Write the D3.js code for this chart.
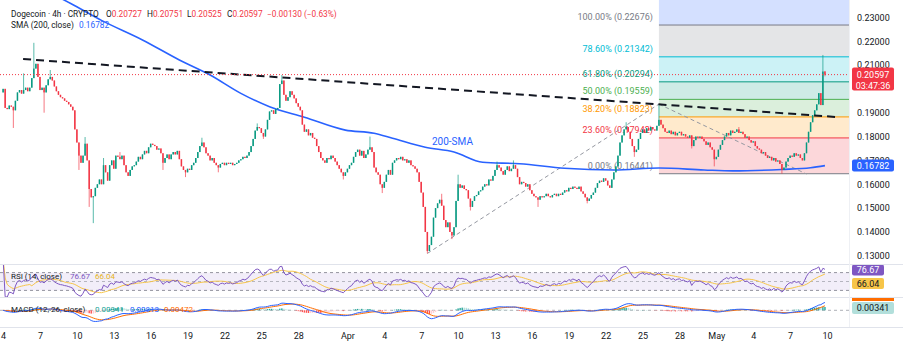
<!DOCTYPE html>
<html><head><meta charset="utf-8">
<script src="https://cdn.jsdelivr.net/npm/d3@7"></script>
<style>body{margin:0;background:#fff;} svg{display:block;font-family:Roboto,"Noto Sans",sans-serif;}</style>
</head><body><svg id="c" width="903" height="350"></svg>
<script>
// ---------------- DATA ----------------
const startTime = "2025-03-04T00:00Z";   // first 4h candle
const firstOpen = 0.1985;
const closes = [
0.2000,0.1920,0.1915,0.1930,0.1925,0.1910,0.1950,0.1985,0.1995,0.1980,0.1995,0.2005,
0.1990,0.2005,0.2045,0.2085,0.2105,0.2050,0.1995,0.2005,0.1985,0.2015,0.2040,0.2050,
0.2035,0.2010,0.1990,0.1975,0.1965,0.1960,0.1950,0.1945,0.1935,0.1925,0.1910,0.1830,
0.1775,0.1720,0.1690,0.1720,0.1770,0.1700,0.1580,0.1545,0.1550,0.1585,0.1600,0.1620,
0.1600,0.1680,0.1650,0.1615,0.1680,0.1700,0.1665,0.1720,0.1715,0.1705,0.1720,0.1680,
0.1650,0.1635,0.1660,0.1675,0.1680,0.1695,0.1715,0.1705,0.1725,0.1740,0.1730,0.1755,
0.1770,0.1765,0.1760,0.1745,0.1750,0.1730,0.1690,0.1710,0.1725,0.1705,0.1725,0.1735,
0.1725,0.1740,0.1705,0.1675,0.1660,0.1650,0.1665,0.1660,0.1680,0.1690,0.1710,0.1735,
0.1760,0.1775,0.1755,0.1730,0.1720,0.1700,0.1710,0.1690,0.1680,0.1670,0.1685,0.1690,
0.1680,0.1690,0.1685,0.1690,0.1680,0.1685,0.1690,0.1700,0.1705,0.1715,0.1710,0.1720,
0.1735,0.1760,0.1790,0.1825,0.1840,0.1835,0.1815,0.1800,0.1830,0.1870,0.1905,0.1910,
0.1895,0.1915,0.1920,0.2020,0.2035,0.1975,0.1950,0.1965,0.1990,0.1975,0.1960,0.1940,
0.1925,0.1910,0.1850,0.1820,0.1830,0.1805,0.1815,0.1795,0.1790,0.1760,0.1735,0.1710,
0.1700,0.1690,0.1710,0.1705,0.1720,0.1710,0.1695,0.1680,0.1665,0.1650,0.1635,0.1650,
0.1665,0.1680,0.1690,0.1715,0.1735,0.1745,0.1720,0.1740,0.1710,0.1725,0.1745,0.1755,
0.1735,0.1670,0.1650,0.1640,0.1600,0.1585,0.1610,0.1640,0.1660,0.1640,0.1690,0.1700,
0.1710,0.1705,0.1715,0.1700,0.1705,0.1690,0.1700,0.1680,0.1675,0.1665,0.1650,0.1610,
0.1565,0.1505,0.1400,0.1320,0.1345,0.1380,0.1460,0.1500,0.1520,0.1535,0.1510,0.1450,
0.1420,0.1440,0.1400,0.1385,0.1420,0.1530,0.1600,0.1585,0.1595,0.1580,0.1575,0.1540,
0.1505,0.1530,0.1550,0.1555,0.1570,0.1575,0.1590,0.1600,0.1595,0.1620,0.1615,0.1635,
0.1660,0.1680,0.1670,0.1655,0.1640,0.1660,0.1675,0.1655,0.1665,0.1680,0.1665,0.1630,
0.1600,0.1610,0.1605,0.1590,0.1600,0.1575,0.1560,0.1550,0.1545,0.1535,0.1550,0.1545,
0.1550,0.1560,0.1550,0.1545,0.1555,0.1560,0.1550,0.1560,0.1555,0.1565,0.1575,0.1570,
0.1585,0.1580,0.1590,0.1585,0.1580,0.1590,0.1570,0.1560,0.1545,0.1530,0.1540,0.1555,
0.1565,0.1585,0.1605,0.1615,0.1610,0.1625,0.1615,0.1595,0.1585,0.1620,0.1650,0.1675,
0.1720,0.1775,0.1805,0.1830,0.1840,0.1820,0.1790,0.1760,0.1735,0.1745,0.1790,0.1815,
0.1830,0.1815,0.1835,0.1825,0.1840,0.1830,0.1825,0.1845,0.1870,0.1850,0.1835,0.1820,
0.1815,0.1825,0.1810,0.1820,0.1805,0.1815,0.1820,0.1805,0.1810,0.1800,0.1795,0.1805,
0.1760,0.1785,0.1800,0.1795,0.1800,0.1790,0.1780,0.1765,0.1775,0.1755,0.1745,0.1705,
0.1715,0.1745,0.1765,0.1785,0.1800,0.1815,0.1805,0.1825,0.1815,0.1820,0.1830,0.1815,
0.1820,0.1810,0.1795,0.1800,0.1785,0.1775,0.1780,0.1760,0.1750,0.1745,0.1730,0.1735,
0.1720,0.1710,0.1715,0.1700,0.1710,0.1695,0.1700,0.1685,0.1660,0.1670,0.1695,0.1710,
0.1720,0.1715,0.1730,0.1720,0.1725,0.1710,0.1700,0.1730,0.1775,0.1820,0.1860,0.1890,
0.1910,0.1935,0.1982,0.1932,0.20727,0.20597
];
// notable wicks: [candle index, price]
const wickHighs = [[10,0.2065],[15,0.2193],[23,0.2079],[40,0.1798],[49,0.1710],[57,0.1735],[97,0.1795],[124,0.1855],[136,0.2058],[179,0.1800],[214,0.1560],[222,0.1640],[241,0.1695],[249,0.1700],[304,0.1860],[320,0.1936],[359,0.1840],[400,0.2142],[401,0.20751]];
const wickLows = [[5,0.1836],[20,0.1900],[37,0.1660],[42,0.1505],[44,0.1437],[78,0.1660],[89,0.1630],[105,0.1650],[127,0.1790],[166,0.1620],[185,0.1563],[207,0.1310],[219,0.1370],[228,0.1490],[261,0.1505],[285,0.1520],[308,0.1715],[336,0.1750],[347,0.1675],[380,0.16441],[401,0.20525]];

const smaDates = ["2025-03-07T00:00Z","2025-03-09T12:00Z","2025-03-12T00:00Z","2025-03-15T08:00Z","2025-03-18T08:00Z","2025-03-20T20:00Z","2025-03-23T08:00Z","2025-03-25T16:00Z","2025-03-28T12:00Z","2025-03-31T20:00Z","2025-04-03T04:00Z","2025-04-04T16:00Z","2025-04-07T08:00Z","2025-04-09T16:00Z","2025-04-12T00:00Z","2025-04-15T00:00Z","2025-04-18T16:00Z","2025-04-22T16:00Z","2025-04-26T08:00Z","2025-04-30T00:00Z","2025-05-02T08:00Z","2025-05-06T08:00Z","2025-05-08T16:00Z","2025-05-09T20:00Z"];
const smaValues = [0.2423,0.2358,0.2287,0.2205,0.2121,0.2058,0.1981,0.1925,0.1881,0.1827,0.1814,0.1793,0.1755,0.1735,0.1692,0.1686,0.1667,0.1660,0.1668,0.1660,0.1656,0.1662,0.1669,0.16782];

const fibRatios = [0, 0.236, 0.382, 0.5, 0.618, 0.786, 1];
const fibPrices = [0.16441, 0.17942, 0.18823, 0.19559, 0.20294, 0.21342, 0.22676];
const fibColors = ["#787b86","#f23645","#ff9800","#4caf50","#089981","#00bcd4","#787b86"];
const fibExtPrice = 0.26529; const fibExtColor = "#2962ff";
const fibStart = "2025-04-26T08:00Z";

const trendLine = [["2025-03-05T15:00Z",0.2125],["2025-05-11T01:00Z",0.1881]];
const riseLine = [["2025-04-07T12:00Z",0.1310],["2025-04-26T08:00Z",0.1936]];
const fallLine = [["2025-04-26T08:00Z",0.1936],["2025-05-08T08:00Z",0.1643]];

const priceTicks = [0.13,0.14,0.15,0.16,0.17,0.18,0.19,0.21,0.22,0.23];
const tickDates = ["2025-03-04","2025-03-07","2025-03-10","2025-03-13","2025-03-16","2025-03-19","2025-03-22","2025-03-25","2025-03-28","2025-04-01","2025-04-04","2025-04-07","2025-04-10","2025-04-13","2025-04-16","2025-04-19","2025-04-22","2025-04-25","2025-04-28","2025-05-01","2025-05-04","2025-05-07","2025-05-10"];
const tickLabels = ["4","7","10","13","16","19","22","25","28","Apr","4","7","10","13","16","19","22","25","28","May","4","7","10"];

const lastPrice = 0.20597, lastOpen = 0.20727, lastHigh = 0.20751, lastLow = 0.20525, lastChange = -0.00130, lastPct = -0.63;
const countdown = "03:47:36";
const smaLast = 0.16782;
const rsiLabels = ["76.67","66.04"];
const macdLabels = ["0.00341","0.00813","0.00472"];

// ---------------- SETUP ----------------
const svg = d3.select("#c");
const W = 903, H = 350, CR = 849;
const mainTop = 0, mainBot = 264, rsiTop = 265, rsiBot = 297, macdTop = 298, macdBot = 327;
const UP = "#089981", DN = "#f23645", TXT = "#131722";
svg.append("rect").attr("width",W).attr("height",H).attr("fill","#fff");

const H4 = 4*3600*1000;
const t0 = new Date(startTime).getTime();
const tOf = i => new Date(t0 + i*H4);
const x = d3.scaleUtc().domain([new Date("2025-03-07T00:00Z"), new Date("2025-05-10T00:00Z")]).range([40, 827]);
const y = d3.scaleLinear().domain([0.13, 0.23]).range([255.8, 17.3]);

const hiMap = new Map(wickHighs), loMap = new Map(wickLows);
const candles = closes.map((c,i)=>{
  const o = i===0 ? firstOpen : closes[i-1];
  let h = Math.max(o,c), l = Math.min(o,c);
  if (hiMap.has(i)) h = Math.max(h, hiMap.get(i));
  if (loMap.has(i)) l = Math.min(l, loMap.get(i));
  return {t: tOf(i), o, h, l, c};
});

const defs = svg.append("defs");
defs.append("clipPath").attr("id","cm").append("rect").attr("x",0).attr("y",mainTop).attr("width",CR).attr("height",mainBot-mainTop);
defs.append("clipPath").attr("id","cr").append("rect").attr("x",0).attr("y",rsiTop).attr("width",CR).attr("height",rsiBot-rsiTop);
defs.append("clipPath").attr("id","cd").append("rect").attr("x",0).attr("y",macdTop).attr("width",CR).attr("height",macdBot-macdTop);

const main = svg.append("g").attr("clip-path","url(#cm)");

// ---------------- FIB ----------------
const fx0 = x(new Date(fibStart));
const fibAll = fibPrices.concat([fibExtPrice]);
const fibColAll = fibColors.concat([fibExtColor]);
for (let k=0; k<fibAll.length-1; k++){
  main.append("rect").attr("x",fx0).attr("width",CR-fx0)
    .attr("y", y(fibAll[k+1])).attr("height", y(fibAll[k]) - y(fibAll[k+1]))
    .attr("fill", fibColAll[k+1]).attr("fill-opacity",0.2);
}
fibPrices.forEach((p,k)=>{
  main.append("line").attr("x1",fx0).attr("x2",CR).attr("y1",y(p)).attr("y2",y(p))
    .attr("stroke",fibColors[k]).attr("stroke-width",1);
  main.append("text").attr("x",fx0-6).attr("y",y(p)-5).attr("text-anchor","end")
    .attr("font-size",9).attr("fill",fibColors[k])
    .text((fibRatios[k]*100).toFixed(2)+"% ("+p.toFixed(5)+")");
});

// ---------------- dashed gray lines ----------------
[riseLine, fallLine].forEach(L=>{
  main.append("line").attr("x1",x(new Date(L[0][0]))).attr("y1",y(L[0][1]))
    .attr("x2",x(new Date(L[1][0]))).attr("y2",y(L[1][1]))
    .attr("stroke","#9598a1").attr("stroke-width",1).attr("stroke-dasharray","4,3");
});

// ---------------- SMA ----------------
const smaPts = smaDates.map((d,i)=>[new Date(d), smaValues[i]]);
main.append("path").datum(smaPts)
  .attr("d", d3.line().x(d=>x(d[0])).y(d=>y(d[1])).curve(d3.curveMonotoneX))
  .attr("fill","none").attr("stroke","#2962ff").attr("stroke-width",1.6);

// ---------------- CANDLES ----------------
const cg = main.append("g");
cg.selectAll("line.w").data(candles).join("line")
  .attr("x1",d=>x(d.t)).attr("x2",d=>x(d.t)).attr("y1",d=>y(d.h)).attr("y2",d=>y(d.l))
  .attr("stroke",d=>d.c>=d.o?UP:DN).attr("stroke-width",0.9).attr("stroke-opacity",0.75);
cg.selectAll("rect.b").data(candles).join("rect")
  .attr("x",d=>x(d.t)-0.75).attr("width",1.5)
  .attr("y",d=>y(Math.max(d.o,d.c))).attr("height",d=>Math.max(1, Math.abs(y(d.o)-y(d.c))))
  .attr("fill",d=>d.c>=d.o?UP:DN);

// ---------------- trend line ----------------
main.append("line").attr("x1",x(new Date(trendLine[0][0]))).attr("y1",y(trendLine[0][1]))
  .attr("x2",x(new Date(trendLine[1][0]))).attr("y2",y(trendLine[1][1]))
  .attr("stroke","#131722").attr("stroke-width",2).attr("stroke-dasharray","8,5");

// last price line
main.append("line").attr("x1",0).attr("x2",CR).attr("y1",y(lastPrice)).attr("y2",y(lastPrice))
  .attr("stroke",DN).attr("stroke-width",1).attr("stroke-dasharray","1,2");

// 200-SMA label
main.append("text").attr("x",432).attr("y",145).attr("font-size",10).attr("fill","#2962ff").text("200-SMA");

// ---------------- HEADER ----------------
const hdr = svg.append("text").attr("y",17).attr("font-size",8.3).attr("fill",TXT);
hdr.append("tspan").attr("x",11).text("Dogecoin · 4h · CRYPTO");
[["O",lastOpen,106],["H",lastHigh,147],["L",lastLow,187],["C",lastPrice,227]].forEach(([k,v,px])=>{
  hdr.append("tspan").attr("x",px).attr("fill",TXT).text(k);
  hdr.append("tspan").attr("fill",DN).text(v.toFixed(5));
});
hdr.append("tspan").attr("x",267).attr("fill",DN).text("−"+Math.abs(lastChange).toFixed(5)+" (−"+Math.abs(lastPct).toFixed(2)+"%)");
const hdr2 = svg.append("text").attr("y",28).attr("font-size",8.3).attr("fill",TXT);
hdr2.append("tspan").attr("x",11).text("SMA (200, close)");
hdr2.append("tspan").attr("x",79).attr("fill","#2962ff").text(smaLast.toFixed(5));

// ---------------- PRICE AXIS ----------------
const ya = svg.append("g").attr("transform",`translate(${CR},0)`)
  .call(d3.axisRight(y).tickValues(priceTicks).tickFormat(d3.format(".5f")).tickSize(0).tickPadding(8));
ya.select(".domain").remove();
ya.selectAll("text").attr("font-size",9).attr("fill",TXT).attr("font-family","Roboto,'Noto Sans',sans-serif");

// price boxes
svg.append("rect").attr("x",852).attr("y",y(lastPrice)-7).attr("width",42).attr("height",23).attr("rx",2).attr("fill",DN);
svg.append("text").attr("x",873).attr("y",y(lastPrice)+3).attr("text-anchor","middle").attr("font-size",9).attr("fill","#fff").text(lastPrice.toFixed(5));
svg.append("text").attr("x",873).attr("y",y(lastPrice)+14).attr("text-anchor","middle").attr("font-size",9).attr("fill","#fff").text(countdown);
svg.append("rect").attr("x",852).attr("y",y(smaLast)-6).attr("width",42).attr("height",12).attr("rx",2).attr("fill","#2962ff");
svg.append("text").attr("x",873).attr("y",y(smaLast)+3.2).attr("text-anchor","middle").attr("font-size",9).attr("fill","#fff").text(smaLast.toFixed(5));

// ---------------- RSI ----------------
const all = [firstOpen].concat(closes);
const rsi = []; let ag=0, al=0;
for (let i=1;i<all.length;i++){
  const ch = all[i]-all[i-1], g = Math.max(ch,0), l = Math.max(-ch,0);
  if (i<=14){ ag = (ag*(i-1)+g)/i; al = (al*(i-1)+l)/i; }
  else { ag = (ag*13+g)/14; al = (al*13+l)/14; }
  rsi.push(al===0?100:100-100/(1+ag/al));
}
const rsiMA = rsi.map((v,i)=>d3.mean(rsi.slice(Math.max(0,i-13), i+1)));
const ry = d3.scaleLinear().domain([30,70]).range([290.4,272.6]);
const rg = svg.append("g").attr("clip-path","url(#cr)");
rg.append("rect").attr("x",0).attr("width",CR).attr("y",ry(70)).attr("height",ry(30)-ry(70)).attr("fill","#7e57c2").attr("fill-opacity",0.1);
[70,50,30].forEach(v=>rg.append("line").attr("x1",0).attr("x2",CR).attr("y1",ry(v)).attr("y2",ry(v))
  .attr("stroke","#787b86").attr("stroke-opacity",v===50?0.5:0.8).attr("stroke-dasharray","3,3"));
rg.append("path").datum(rsiMA).attr("d",d3.line().x((d,i)=>x(tOf(i))).y(d=>ry(d))).attr("fill","none").attr("stroke","#f7c548").attr("stroke-width",1);
rg.append("path").datum(rsi).attr("d",d3.line().x((d,i)=>x(tOf(i))).y(d=>ry(d))).attr("fill","none").attr("stroke","#7e57c2").attr("stroke-width",1);
const rh = svg.append("text").attr("y",279).attr("font-size",8).attr("fill",TXT);
rh.append("tspan").attr("x",11).text("RSI (14, close)");
rh.append("tspan").attr("x",70).attr("fill","#7e57c2").text(rsiLabels[0]);
rh.append("tspan").attr("x",95).attr("fill","#e6b422").text(rsiLabels[1]);
svg.append("rect").attr("x",852).attr("y",264.5).attr("width",32).attr("height",11).attr("rx",2).attr("fill","#7e57c2");
svg.append("text").attr("x",868).attr("y",273).attr("text-anchor","middle").attr("font-size",9).attr("fill","#fff").text(rsiLabels[0]);
svg.append("rect").attr("x",852).attr("y",278).attr("width",32).attr("height",11).attr("rx",2).attr("fill","#f7c548");
svg.append("text").attr("x",868).attr("y",286.5).attr("text-anchor","middle").attr("font-size",9).attr("fill",TXT).text(rsiLabels[1]);

// ---------------- MACD ----------------
const ema = (a,n)=>{const k=2/(n+1); const o=[a[0]]; for(let i=1;i<a.length;i++) o.push(a[i]*k+o[i-1]*(1-k)); return o;};
const e12 = ema(closes,12), e26 = ema(closes,26);
const macd = closes.map((c,i)=>e12[i]-e26[i]);
const sig = ema(macd,9);
const hist = macd.map((m,i)=>m-sig[i]);
const my = d3.scaleLinear().domain([0,0.008]).range([310.3,302]);
const mg = svg.append("g").attr("clip-path","url(#cd)");
mg.append("line").attr("x1",0).attr("x2",CR).attr("y1",my(0)).attr("y2",my(0)).attr("stroke","#787b86").attr("stroke-opacity",0.6).attr("stroke-dasharray","3,3");
mg.selectAll("rect").data(hist).join("rect")
  .attr("x",(d,i)=>x(tOf(i))-0.7).attr("width",1.4)
  .attr("y",d=>Math.min(my(d),my(0))).attr("height",d=>Math.abs(my(d)-my(0)))
  .attr("fill",(d,i)=>{const p=i?hist[i-1]:0; return d>=0?(d>p?"#26a69a":"#b2dfdb"):(d<p?"#ff5252":"#ffcdd2");});
mg.append("path").datum(sig).attr("d",d3.line().x((d,i)=>x(tOf(i))).y(d=>my(d))).attr("fill","none").attr("stroke","#ff6d00").attr("stroke-width",1);
mg.append("path").datum(macd).attr("d",d3.line().x((d,i)=>x(tOf(i))).y(d=>my(d))).attr("fill","none").attr("stroke","#2962ff").attr("stroke-width",1);
const mh = svg.append("text").attr("y",312).attr("font-size",8).attr("fill",TXT);
mh.append("tspan").attr("x",11).text("MACD (12, 26, close)");
mh.append("tspan").attr("x",95).attr("fill","#26a69a").text(macdLabels[0]);
mh.append("tspan").attr("x",130).attr("fill","#2962ff").text(macdLabels[1]);
mh.append("tspan").attr("x",164).attr("fill","#ff6d00").text(macdLabels[2]);
svg.append("rect").attr("x",852).attr("y",298).attr("width",42).attr("height",3).attr("fill","#ff6d00");
svg.append("rect").attr("x",852).attr("y",302).attr("width",42).attr("height",12).attr("rx",2).attr("fill","#b2dfdb");
svg.append("text").attr("x",873).attr("y",311).attr("text-anchor","middle").attr("font-size",9).attr("fill",TXT).text(macdLabels[0]);

// ---------------- separators ----------------
[mainBot+0.5, rsiBot+0.5, macdBot+0.5].forEach(v=>svg.append("line").attr("x1",0).attr("x2",W).attr("y1",v).attr("y2",v).attr("stroke","#e0e3eb"));
svg.append("line").attr("x1",CR+0.5).attr("x2",CR+0.5).attr("y1",0).attr("y2",macdBot).attr("stroke","#eef0f4");

// ---------------- TIME AXIS ----------------
const xa = svg.append("g").attr("transform",`translate(0,${macdBot+2})`)
  .call(d3.axisBottom(x).tickValues(tickDates.map(d=>new Date(d+"T00:00Z"))).tickFormat((d,i)=>tickLabels[i]).tickSize(0).tickPadding(4));
xa.select(".domain").remove();
xa.selectAll("text").attr("font-size",9).attr("fill",TXT).attr("font-family","Roboto,'Noto Sans',sans-serif");
</script></body></html>
